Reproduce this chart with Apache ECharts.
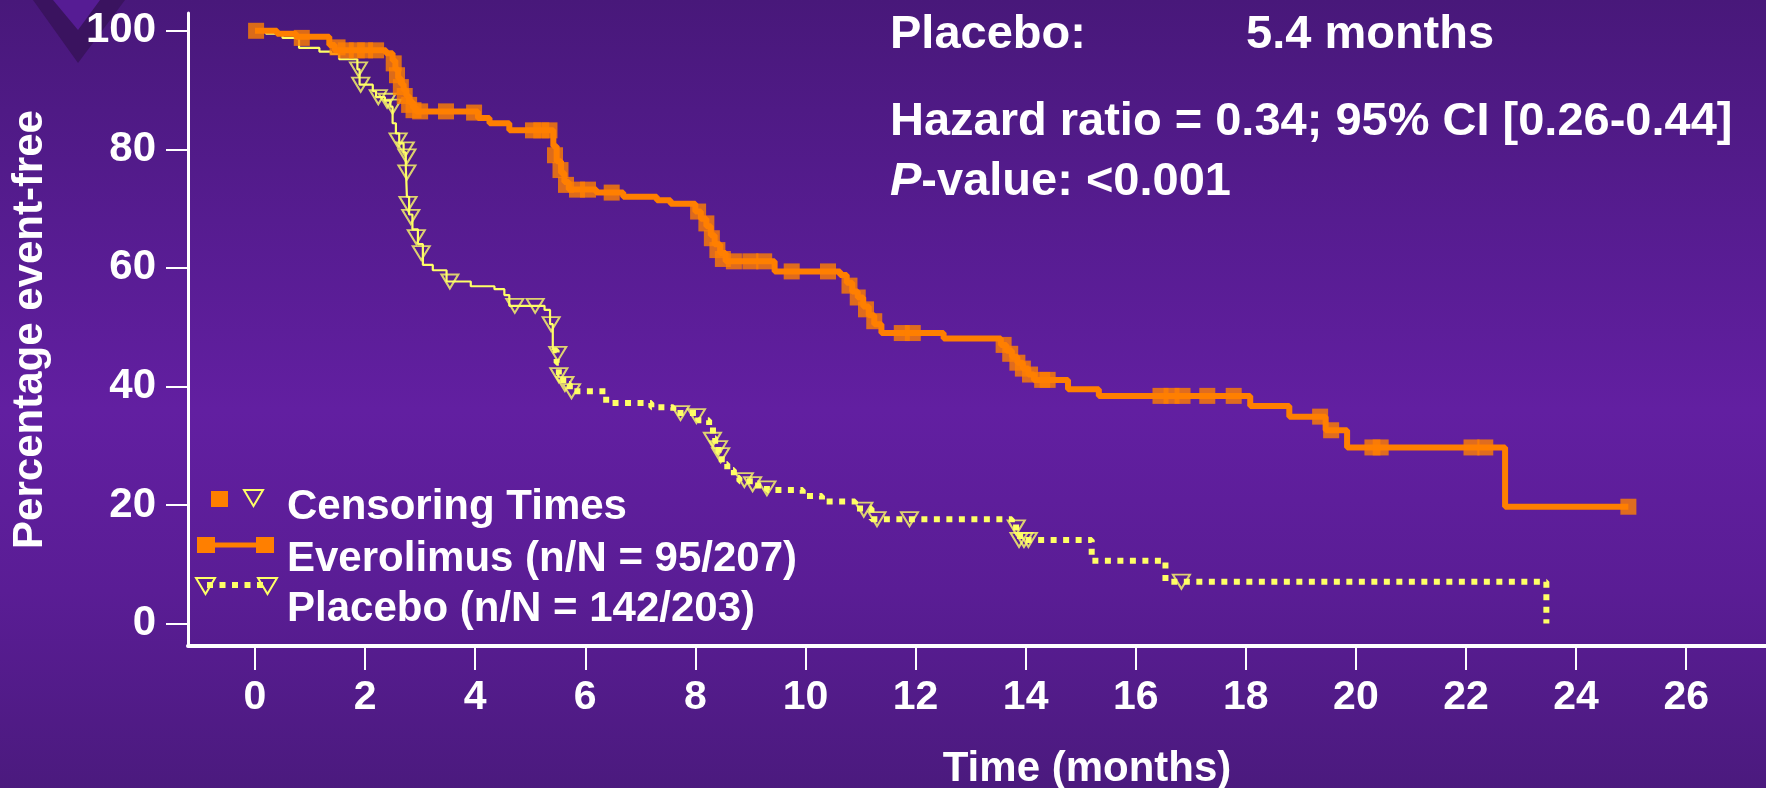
<!DOCTYPE html>
<html>
<head>
<meta charset="utf-8">
<script src="https://cdn.jsdelivr.net/npm/echarts@6/dist/echarts.min.js"></script>
<style>
  html, body { margin: 0; padding: 0; width: 1766px; height: 788px; overflow: hidden; }
  #chart {
    width: 1766px; height: 788px;
    background: linear-gradient(to bottom, #48187a 0%, #561c90 28%, #621fa1 52%, #5a1d95 75%, #4b1a7e 100%);
  }
</style>
</head>
<body>
<div id="chart"></div>
<script>
// Axis ticks
const xTickValues = [0, 2, 4, 6, 8, 10, 12, 14, 16, 18, 20, 22, 24, 26];
const yTickValues = [0, 20, 40, 60, 80, 100];

// Everolimus Kaplan-Meier steps: [month, % event-free after the event]
const everolimusSteps = [
  [0, 100], [0.40, 99.5], [0.75, 99.0], [1.35, 97.6], [1.45, 96.7], [2.38, 96.2],
  [2.50, 95.0], [2.55, 93.5], [2.60, 92.0], [2.65, 91.0], [2.70, 90.0], [2.75, 89.0],
  [2.80, 88.0], [2.87, 87.0], [2.93, 86.4], [4.05, 85.3], [4.26, 84.4], [4.62, 83.2],
  [5.42, 80.5], [5.48, 78.0], [5.56, 76.0], [5.62, 74.5], [5.70, 73.2], [6.20, 72.7],
  [6.69, 72.0], [7.30, 71.4], [7.55, 70.8], [8.00, 69.5], [8.10, 68.3], [8.20, 67.0],
  [8.28, 65.5], [8.35, 64.0], [8.45, 62.5], [8.55, 61.1], [9.44, 59.4], [10.63, 58.8],
  [10.75, 57.5], [10.85, 56.0], [10.95, 55.0], [11.05, 53.5], [11.15, 52.0], [11.25, 50.5],
  [11.38, 49.0], [12.51, 48.1], [13.55, 47.0], [13.65, 46.0], [13.75, 45.0], [13.85, 44.0],
  [13.95, 43.0], [14.05, 42.0], [14.15, 41.1], [14.77, 39.5], [15.33, 38.4], [18.08, 36.7],
  [18.79, 34.9], [19.45, 32.6], [19.84, 29.7], [22.71, 19.7], [24.95, 19.7]
];

// Everolimus censoring times
const everolimusCensored = [
  [0.02, 100], [0.85, 98.8], [1.50, 97.2], [1.65, 96.7], [1.85, 96.7], [2.00, 96.7], [2.20, 96.7],
  [2.52, 94.5], [2.58, 92.5], [2.65, 90.5], [2.72, 89.0], [2.80, 87.5], [2.88, 86.6],
  [3.00, 86.4], [3.47, 86.4], [3.98, 86.2], [5.05, 83.2], [5.20, 83.2], [5.35, 83.2],
  [5.45, 79.0], [5.55, 76.5], [5.65, 74.0], [5.85, 73.2], [6.05, 73.2], [6.48, 72.7],
  [8.05, 69.5], [8.20, 67.5], [8.30, 65.0], [8.40, 63.0], [8.50, 61.5], [8.70, 61.1],
  [9.00, 61.1], [9.25, 61.1], [9.75, 59.4], [10.41, 59.4], [10.80, 57.0], [10.95, 55.0],
  [11.10, 53.0], [11.25, 51.0], [11.75, 49.0], [11.95, 49.0], [13.60, 47.0], [13.72, 45.5],
  [13.85, 44.0], [13.95, 43.0], [14.08, 42.0], [14.30, 41.1], [14.40, 41.1], [16.45, 38.4],
  [16.65, 38.4], [16.85, 38.4], [17.30, 38.4], [17.78, 38.4], [19.35, 34.9], [19.55, 32.6],
  [20.30, 29.7], [20.45, 29.7], [22.10, 29.7], [22.35, 29.7], [24.95, 19.7]
];

// Placebo steps, first months (thin solid trace)
const placeboStepsEarly = [
  [0, 100], [0.20, 99.5], [0.50, 98.8], [0.80, 97.1], [1.17, 96.5], [1.38, 96.1], [1.53, 95.2],
  [1.86, 93.5], [1.90, 90.9], [2.14, 89.8], [2.20, 88.8], [2.36, 88.2], [2.46, 87.2],
  [2.50, 84.4], [2.56, 82.7], [2.62, 81.0], [2.70, 79.5], [2.74, 77.0], [2.76, 72.0],
  [2.80, 69.0], [2.86, 66.5], [2.96, 64.0], [3.05, 60.5], [3.23, 59.6], [3.48, 57.7],
  [3.92, 56.9], [4.35, 56.4], [4.53, 55.4], [4.62, 53.6], [5.26, 52.9], [5.36, 50.5], [5.41, 46.1]
];

// Placebo steps, remainder (dotted trace)
const placeboStepsLate = [
  [5.41, 46.1], [5.48, 44.0], [5.52, 42.0], [5.60, 40.4], [5.72, 39.2], [6.38, 37.2],
  [7.20, 36.5], [7.60, 35.5], [8.05, 34.3], [8.25, 33.2], [8.32, 31.3], [8.36, 30.0],
  [8.42, 28.8], [8.48, 26.9], [8.58, 25.9], [8.70, 24.6], [8.80, 24.0], [9.05, 23.3],
  [9.30, 22.5], [9.95, 21.5], [10.30, 20.6], [10.90, 19.4], [11.20, 17.6], [13.75, 16.2],
  [13.90, 14.1], [15.20, 10.6], [16.54, 7.05], [23.46, 0]
];

// Placebo censoring times
const placeboCensored = [
  [1.88, 93.5], [1.92, 90.9], [2.24, 88.8], [2.40, 88.2], [2.50, 87.2], [2.60, 81.5],
  [2.73, 80.0], [2.76, 78.8], [2.76, 76.1], [2.78, 70.8], [2.83, 68.6], [2.93, 65.2],
  [3.02, 62.5], [3.54, 57.7], [4.72, 53.6], [5.09, 53.6], [5.38, 50.5], [5.50, 45.5],
  [5.52, 41.9], [5.63, 40.4], [5.75, 39.2], [7.73, 35.5], [8.02, 35.0], [8.31, 31.0],
  [8.42, 29.6], [8.46, 28.4], [8.89, 24.2], [9.04, 23.5], [9.30, 22.8], [11.06, 19.2],
  [11.30, 17.6], [11.89, 17.6], [13.83, 16.2], [13.88, 14.1], [13.97, 14.1], [14.05, 14.1],
  [16.83, 7.05]
];

const ORANGE = '#ff7f00';
const YELLOW = '#ffff66';
const WHITE = '#ffffff';
const FONT = '"Liberation Sans", Arial, sans-serif';
const DOWN_TRIANGLE = 'path://M0,0L20,0L10,16Z';

function txt(text, x, y, size, align, extra) {
  return Object.assign({
    type: 'text', x: x, y: y, z: 20,
    style: {
      text: text, fill: WHITE, font: 'bold ' + size + 'px ' + FONT,
      align: align || 'left', verticalAlign: 'middle'
    }
  }, extra || {});
}

const chart = echarts.init(document.getElementById('chart'), null, { renderer: 'canvas' });

chart.setOption({
  animation: false,
  backgroundColor: 'transparent',
  grid: { left: 188, right: 0, top: 13, bottom: 142, containLabel: false },
  xAxis: {
    type: 'value', min: -1.217, max: 27.45,
    axisLine: { show: true, onZero: false, lineStyle: { color: WHITE, width: 4 } },
    axisTick: { show: true, customValues: xTickValues, length: 24, lineStyle: { color: WHITE, width: 2 } },
    axisLabel: { customValues: xTickValues, color: WHITE, fontSize: 41, fontWeight: 'bold', fontFamily: FONT, margin: 31 },
    splitLine: { show: false }
  },
  yAxis: {
    type: 'value', min: -3.8, max: 103,
    axisLine: { show: true, onZero: false, lineStyle: { color: WHITE, width: 3 } },
    axisTick: { show: true, customValues: yTickValues, length: 22, lineStyle: { color: WHITE, width: 2 } },
    axisLabel: { customValues: yTickValues, color: WHITE, fontSize: 42, fontWeight: 'bold', fontFamily: FONT, margin: 32 },
    splitLine: { show: false }
  },
  series: [
    {
      type: 'line', name: 'Placebo', data: placeboStepsEarly, step: 'end', symbol: 'none',
      lineStyle: { color: YELLOW, width: 2.2 }, z: 2, silent: true
    },
    {
      type: 'line', name: 'Placebo', data: placeboStepsLate, step: 'end', symbol: 'none',
      lineStyle: { color: YELLOW, width: 6, type: [6, 6.5] }, z: 2, silent: true
    },
    {
      type: 'scatter', name: 'Placebo censored', data: placeboCensored,
      symbol: DOWN_TRIANGLE, symbolSize: [17, 14],
      itemStyle: { color: 'rgba(0,0,0,0)', borderColor: YELLOW, borderWidth: 2 }, z: 3, silent: true
    },
    {
      type: 'line', name: 'Everolimus', data: everolimusSteps, step: 'end', symbol: 'none',
      lineStyle: { color: ORANGE, width: 6 }, z: 4, silent: true
    },
    {
      type: 'scatter', name: 'Everolimus censored', data: everolimusCensored,
      symbol: 'rect', symbolSize: 16, itemStyle: { color: ORANGE }, z: 5, silent: true
    }
  ],
  graphic: [
    // corner chevron
    { type: 'polygon', z: -1, shape: { points: [[33, 0], [78, 63], [125, 0]] }, style: { fill: '#3a135f' } },
    { type: 'polygon', z: -1, shape: { points: [[53, 0], [78, 30], [100, 0]] }, style: { fill: '#561c94' } },

    // axis titles
    txt('Percentage event-free', 30.5, 329.5, 42, 'center', { rotation: Math.PI / 2 }),
    txt('Time (months)', 1087, 769, 42, 'center'),

    // statistics block
    txt('Placebo:', 890, 35.5, 47),
    txt('5.4 months', 1246, 35.5, 47),
    txt('Hazard ratio = 0.34; 95% CI [0.26-0.44]', 890, 122.5, 47),
    {
      type: 'text', x: 890, y: 182, z: 20,
      style: {
        text: '{i|P}-value: <0.001', fill: WHITE, font: 'bold 47px ' + FONT,
        align: 'left', verticalAlign: 'middle',
        rich: { i: { font: 'italic bold 47px ' + FONT, fill: WHITE } }
      }
    },

    // legend: censoring markers
    { type: 'rect', z: 20, shape: { x: 211, y: 491, width: 17, height: 16 }, style: { fill: ORANGE } },
    { type: 'polygon', z: 20, shape: { points: [[244, 490], [263, 490], [253.5, 506]] }, style: { fill: 'none', stroke: YELLOW, lineWidth: 2 } },
    txt('Censoring Times', 287, 507, 42),

    // legend: everolimus
    { type: 'line', z: 20, shape: { x1: 205, y1: 545, x2: 266, y2: 545 }, style: { stroke: ORANGE, lineWidth: 5 } },
    { type: 'rect', z: 20, shape: { x: 197, y: 537, width: 18, height: 16 }, style: { fill: ORANGE } },
    { type: 'rect', z: 20, shape: { x: 256, y: 537, width: 18, height: 16 }, style: { fill: ORANGE } },
    txt('Everolimus (n/N = 95/207)', 287, 559.5, 42),

    // legend: placebo
    { type: 'line', z: 20, shape: { x1: 207, y1: 585, x2: 268, y2: 585 }, style: { stroke: YELLOW, lineWidth: 6, lineDash: [6, 6.5] } },
    { type: 'polygon', z: 20, shape: { points: [[196, 578], [215, 578], [205.5, 594]] }, style: { fill: 'none', stroke: YELLOW, lineWidth: 2 } },
    { type: 'polygon', z: 20, shape: { points: [[258, 578], [277, 578], [267.5, 594]] }, style: { fill: 'none', stroke: YELLOW, lineWidth: 2 } },
    txt('Placebo (n/N = 142/203)', 287, 609.5, 42)
  ]
});
</script>
</body>
</html>
